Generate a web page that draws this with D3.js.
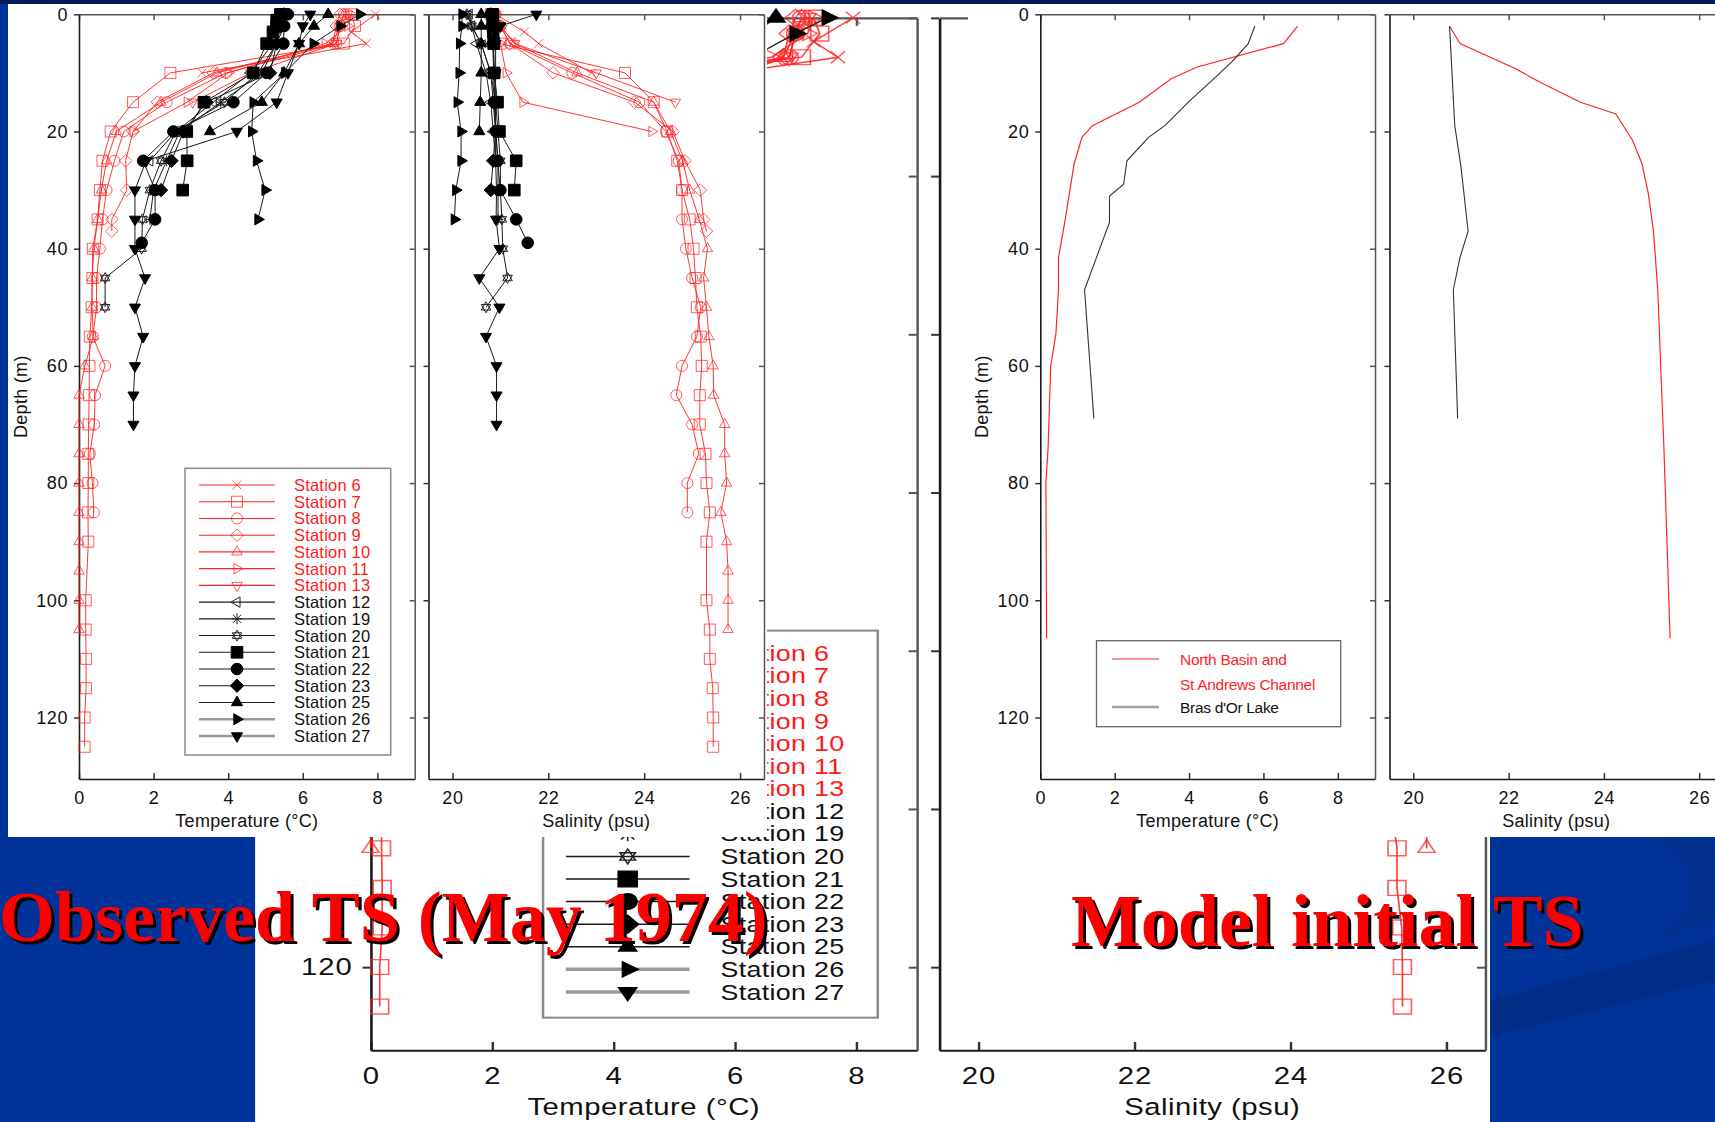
<!DOCTYPE html>
<html>
<head>
<meta charset="utf-8">
<script src="https://cdn.jsdelivr.net/npm/d3@7"></script>
<style>
  html, body { margin: 0; padding: 0; background: #003399; overflow: hidden; }
  svg { display: block; }
  text { font-family: "Liberation Sans", Arial, Helvetica, sans-serif; }
  text.slide-title { font-family: "Liberation Serif", "Times New Roman", serif; font-weight: bold; }
</style>
</head>
<body>
<svg id="slide" width="1715" height="1122"></svg>
<script>
// ---------------- Observed CTD stations, Bras d'Or Lakes, May 1974 ----------------
const stationNames = ["Station 6", "Station 7", "Station 8", "Station 9", "Station 10", "Station 11", "Station 13",
  "Station 12", "Station 19", "Station 20", "Station 21", "Station 22", "Station 23", "Station 25", "Station 26", "Station 27"];

// depth (m), temperature (°C), salinity (psu) per station
const depth6 = [0, 3, 5, 10];
const temp6 = [7.95, 7.3, 7.7, 3.3];
const sal6 = [20.9, 21.5, 21.8, 22.9];

const depth7 = [0, 2, 5, 10, 15, 20, 25, 30, 35, 40, 45, 50, 55, 60, 65, 70, 75, 80, 85, 90, 100, 105, 110, 115, 120, 125];
const temp7 = [7.3, 7.4, 7.1, 2.45, 1.45, 0.85, 0.63, 0.56, 0.5, 0.37, 0.36, 0.34, 0.29, 0.28, 0.27, 0.26, 0.25, 0.25, 0.24, 0.25, 0.18, 0.18, 0.19, 0.19, 0.15, 0.15];
const sal7 = [20.8, 20.9, 21.0, 23.6, 24.2, 24.48, 24.69, 24.79, 24.95, 25.03, 25.07, 25.1, 25.18, 25.2, 25.16, 25.16, 25.28, 25.3, 25.37, 25.3, 25.3, 25.37, 25.37, 25.43, 25.44, 25.44];

const depth8 = [0, 2, 5, 10, 15, 20, 25, 30, 35, 40, 45, 50, 55, 60, 65, 70, 75, 80, 85];
const temp8 = [7.1, 7.0, 6.9, 3.95, 2.35, 1.2, 0.95, 0.74, 0.63, 0.56, 0.47, 0.47, 0.37, 0.7, 0.43, 0.41, 0.29, 0.36, 0.4];
const sal8 = [20.9, 21.0, 21.2, 22.5, 23.9, 24.45, 24.72, 24.79, 24.79, 24.87, 25.0, 25.18, 25.1, 24.79, 24.67, 25.0, 25.14, 24.9, 24.9];

const depth9 = [0, 2, 5, 10, 15, 20, 25, 30, 35, 37];
const temp9 = [7.0, 6.9, 6.8, 3.6, 2.1, 1.45, 1.25, 1.28, 0.88, 0.88];
const sal9 = [20.9, 21.0, 21.2, 22.1, 23.8, 24.6, 24.85, 25.17, 25.24, 25.3];

const depth10 = [0, 2, 5, 10, 15, 20, 25, 30, 35, 40, 45, 50, 55, 60, 65, 70, 75, 80, 85, 90, 95, 100, 105];
const temp10 = [7.1, 7.0, 6.8, 3.7, 2.2, 1.0, 0.74, 0.6, 0.5, 0.4, 0.35, 0.35, 0.38, 0.16, 0.0, 0.0, 0.0, 0.0, 0.0, 0.0, 0.0, 0.0, 0.0];
const sal10 = [20.9, 21.0, 21.3, 22.6, 24.2, 24.55, 24.8, 24.95, 25.15, 25.32, 25.24, 25.3, 25.35, 25.44, 25.45, 25.68, 25.68, 25.72, 25.6, 25.72, 25.75, 25.75, 25.75];

const depth11 = [0, 2, 5, 10, 15, 20];
const temp11 = [7.3, 7.2, 6.6, 4.0, 2.9, 1.45];
const sal11 = [20.8, 20.9, 21.0, 21.12, 21.47, 24.16];

const depth13 = [0, 2, 5, 10, 15];
const temp13 = [7.2, 7.0, 6.9, 4.6, 3.05];
const sal13 = [20.9, 21.0, 21.3, 23.0, 24.65];

const depth12 = [0, 2, 5, 10, 15, 20, 25];
const temp12 = [5.4, 5.3, 5.2, 4.6, 3.6, 2.6, 1.9];
const sal12 = [20.35, 20.4, 20.5, 20.7, 20.8, 20.85, 20.9];

const depth19 = [0, 2, 5, 10, 15, 20, 25, 30, 35];
const temp19 = [5.6, 5.5, 5.3, 4.9, 3.8, 2.7, 2.35, 2.0, 1.9];
const sal19 = [20.3, 20.4, 20.6, 20.8, 20.85, 20.9, 20.95, 20.95, 20.95];

const depth20 = [0, 2, 5, 10, 15, 20, 25, 30, 35, 40, 45, 50];
const temp20 = [5.5, 5.4, 5.3, 4.8, 3.9, 2.6, 2.2, 1.9, 1.7, 1.68, 0.7, 0.7];
const sal20 = [20.3, 20.4, 20.6, 20.8, 20.9, 20.95, 21.0, 21.0, 21.03, 21.05, 21.15, 20.7];

const depth21 = [0, 1, 2, 3, 5, 10, 15, 20, 25, 30];
const temp21 = [5.4, 5.3, 5.3, 5.2, 5.03, 4.67, 3.35, 2.89, 2.9, 2.78];
const sal21 = [20.84, 20.84, 20.85, 20.85, 20.86, 20.87, 20.94, 20.98, 21.33, 21.29];

const depth22 = [0, 2, 5, 10, 15, 20, 25, 30, 35, 39];
const temp22 = [5.6, 5.5, 5.48, 5.03, 4.14, 2.53, 1.72, 2.04, 2.04, 1.68];
const sal22 = [20.8, 20.82, 20.85, 20.87, 20.87, 20.91, 20.94, 21.0, 21.33, 21.57];

const depth23 = [0, 2, 5, 10, 15, 20, 25, 30];
const temp23 = [5.5, 5.4, 5.3, 5.12, 3.42, 2.8, 2.48, 2.2];
const sal23 = [20.8, 20.82, 20.84, 20.86, 20.88, 20.9, 20.85, 20.8];

const depth25 = [0, 2, 5, 10, 15, 20];
const temp25 = [6.68, 6.3, 5.9, 5.5, 4.9, 3.51];
const sal25 = [20.6, 20.6, 20.6, 20.6, 20.58, 20.56];

const depth26 = [0, 2, 5, 10, 15, 20, 25, 30, 35];
const temp26 = [7.53, 7.0, 6.28, 5.52, 4.67, 4.63, 4.76, 4.99, 4.8];
const sal26 = [20.2, 20.2, 20.15, 20.14, 20.1, 20.18, 20.18, 20.07, 20.04];

const depth27 = [0, 2, 5, 10, 15, 20, 25, 30, 35, 40, 45, 50, 55, 60, 65, 70];
const temp27 = [6.2, 6.0, 5.9, 5.6, 5.3, 4.23, 1.8, 1.5, 1.5, 1.5, 1.77, 1.5, 1.72, 1.5, 1.46, 1.46];
const sal27 = [21.75, 21.0, 20.9, 20.9, 20.9, 20.9, 20.9, 20.92, 20.91, 20.98, 20.56, 20.98, 20.7, 20.92, 20.92, 20.92];

// ---------------- Model initial profiles ----------------
const modelNames = ["North Basin and", "St Andrews Channel", "Bras d'Or Lake"];
const northTempDepth = [2, 5, 9, 11, 15, 19, 21, 25.5, 35, 41.5, 47, 54.5, 60, 74, 80, 106.5];
const northTemp = [6.92, 6.54, 4.22, 3.52, 2.66, 1.40, 1.12, 0.91, 0.67, 0.49, 0.49, 0.42, 0.28, 0.21, 0.15, 0.17];
const brasTempDepth = [2, 5, 8, 10.5, 15, 19, 21, 25, 29, 31, 35.5, 47, 69];
const brasTemp = [5.77, 5.59, 5.17, 4.75, 3.98, 3.35, 2.91, 2.33, 2.24, 1.86, 1.86, 1.19, 1.44];
const northSalDepth = [2, 5, 9.3, 11.5, 15, 17, 21.5, 25.5, 30.5, 37, 47, 74, 106.5];
const northSal = [20.76, 20.98, 22.15, 22.64, 23.51, 24.25, 24.6, 24.8, 24.93, 25.04, 25.13, 25.26, 25.39];
const brasSalDepth = [2, 19, 26, 37, 41.5, 47, 69];
const brasSal = [20.76, 20.87, 21.0, 21.15, 20.98, 20.84, 20.93];

// axis ticks
const tempTicks = [0, 2, 4, 6, 8];
const salTicks = [20, 22, 24, 26];
const depthTicks = [0, 20, 40, 60, 80, 100, 120];

// ---------------- build tables ----------------
const depthList = [depth6, depth7, depth8, depth9, depth10, depth11, depth13, depth12, depth19, depth20, depth21, depth22, depth23, depth25, depth26, depth27];
const tempList = [temp6, temp7, temp8, temp9, temp10, temp11, temp13, temp12, temp19, temp20, temp21, temp22, temp23, temp25, temp26, temp27];
const salList = [sal6, sal7, sal8, sal9, sal10, sal11, sal13, sal12, sal19, sal20, sal21, sal22, sal23, sal25, sal26, sal27];
const stations = stationNames.map((name, i) => ({
  name,
  rows: depthList[i].map((d, j) => ({ depth: d, temp: tempList[i][j], sal: salList[i][j] }))
}));

// marker style for each station, in legend order
const markerKinds = ["x", "square", "circle", "diamond", "up", "right", "down",
  "left", "asterisk", "hexagram", "square", "circle", "diamond", "up", "right", "down"];
const RED = "#ff2424";
const isRed = i => i < 7;
const isFilled = i => i >= 10;

function markerPath(kind, r) {
  const s = r * 0.866;
  switch (kind) {
    case "x": { const a = r * 0.8; return `M${-a},${-a}L${a},${a}M${-a},${a}L${a},${-a}`; }
    case "square": return `M${-r},${-r}H${r}V${r}H${-r}Z`;
    case "circle": return d3.symbol(d3.symbolCircle, Math.PI * r * r)();
    case "diamond": { const a = r * 1.15; return `M0,${-a}L${a},0L0,${a}L${-a},0Z`; }
    case "up": return `M0,${-r * 1.1}L${s * 1.1},${r * 0.55}L${-s * 1.1},${r * 0.55}Z`;
    case "down": return `M0,${r * 1.1}L${s * 1.1},${-r * 0.55}L${-s * 1.1},${-r * 0.55}Z`;
    case "right": return `M${r * 1.1},0L${-r * 0.55},${s * 1.1}L${-r * 0.55},${-s * 1.1}Z`;
    case "left": return `M${-r * 1.1},0L${r * 0.55},${s * 1.1}L${r * 0.55},${-s * 1.1}Z`;
    case "asterisk": {
      const a = r * 0.75;
      return `M0,${-r}V${r}M${-r},0H${r}M${-a},${-a}L${a},${a}M${-a},${a}L${a},${-a}`;
    }
    case "hexagram":
      return `M0,${-r}L${s},${r / 2}L${-s},${r / 2}ZM0,${r}L${s},${-r / 2}L${-s},${-r / 2}Z`;
  }
  return "";
}

function styleMarker(sel, i) {
  if (isRed(i)) {
    sel.attr("fill", "none").attr("stroke", RED).attr("stroke-width", 1).attr("stroke-opacity", 0.75);
  } else if (isFilled(i)) {
    sel.attr("fill", "#000").attr("stroke", "#000").attr("stroke-width", 1);
  } else {
    sel.attr("fill", "none").attr("stroke", "#222").attr("stroke-width", 1);
  }
}

const svg = d3.select("#slide");
const AXIS_FONT = 18;
const intFormat = d3.format("d");

// one boxed panel: bottom/top/left/right axes through d3 axes
function panel(g, x, y, ticks, withDepth, label, frame) {
  const [x0, x1] = x.range();
  const [y0, y1] = y.range();
  const fontSet = a => a.attr("font-size", AXIS_FONT).attr("letter-spacing", 0.6);

  const bottom = g.append("g").attr("transform", `translate(0,${y1})`)
    .call(d3.axisBottom(x).tickValues(ticks).tickFormat(intFormat)
      .tickSizeInner(-6).tickSizeOuter(0).tickPadding(12.5));
  fontSet(bottom);
  bottom.select(".domain").attr("stroke", "#1a1a1a").attr("stroke-width", 1.6);
  bottom.selectAll(".tick line").attr("stroke", "#333").attr("stroke-width", 1.5);
  bottom.selectAll(".tick text").attr("fill", "#111");

  const top = g.append("g").attr("transform", `translate(0,${y0})`)
    .call(d3.axisTop(x).tickValues(ticks).tickSizeInner(-6).tickSizeOuter(0).tickFormat(""));
  top.select(".domain").attr("stroke", "#555").attr("stroke-width", 1.5);
  top.selectAll(".tick line").attr("stroke", "#555").attr("stroke-width", 1.5);

  const left = g.append("g").attr("transform", `translate(${x0},0)`)
    .call(d3.axisLeft(y).tickValues(depthTicks).tickSizeInner(5).tickSizeOuter(0).tickPadding(6)
      .tickFormat(withDepth ? intFormat : ""));
  fontSet(left);
  left.select(".domain").attr("stroke", "#1a1a1a").attr("stroke-width", 1.6);
  left.selectAll(".tick line").attr("stroke", "#333").attr("stroke-width", 1.5);
  left.selectAll(".tick text").attr("fill", "#111");

  if (frame !== false) {
    const right = g.append("g").attr("transform", `translate(${x1},0)`)
      .call(d3.axisRight(y).tickValues(depthTicks).tickSizeInner(-5).tickSizeOuter(0).tickFormat(""));
    right.select(".domain").attr("stroke", "#555").attr("stroke-width", 1.5);
    right.selectAll(".tick line").attr("stroke", "#555").attr("stroke-width", 1.5);
  }

  g.append("text").attr("x", (x0 + x1) / 2).attr("y", y1 + 48)
    .attr("text-anchor", "middle").attr("font-size", AXIS_FONT).attr("fill", "#111")
    .attr("letter-spacing", 0.3).text(label);

  if (withDepth) {
    g.append("text").attr("transform", `translate(${x0 - 58},${(y0 + y1) / 2}) rotate(-90)`)
      .attr("text-anchor", "middle").attr("dominant-baseline", "central")
      .attr("font-size", AXIS_FONT).attr("fill", "#111").attr("letter-spacing", 0.3).text("Depth (m)");
  }
}

// ---------------- observed figure ----------------
function drawObserved(g) {
  g.append("rect").attr("x", 8).attr("y", 4).attr("width", 759).attr("height", 833).attr("fill", "#fff");

  const y = d3.scaleLinear().domain([0, 130.5]).range([14.3, 779]);
  const xT = d3.scaleLinear().domain([0, 9]).range([79, 414.7]);
  const xS = d3.scaleLinear().domain([19.5, 26.5]).range([428.5, 764]);

  panel(g, xT, y, tempTicks, true, "Temperature (°C)");
  panel(g, xS, y, salTicks, false, "Salinity (psu)");

  [[xT, "temp"], [xS, "sal"]].forEach(([x, key]) => {
    const line = d3.line().x(r => x(r[key])).y(r => y(r.depth));
    const layer = g.append("g");
    stations.forEach((s, i) => {
      layer.append("path").datum(s.rows).attr("d", line).attr("fill", "none")
        .attr("stroke", isRed(i) ? RED : "#1a1a1a").attr("stroke-width", 1)
        .attr("stroke-opacity", isRed(i) ? 0.9 : 1);
      const m = layer.append("g").selectAll("path").data(s.rows).join("path")
        .attr("d", markerPath(markerKinds[i], isFilled(i) ? 5.8 : 5.5))
        .attr("transform", r => `translate(${x(r[key])},${y(r.depth)})`);
      styleMarker(m, i);
    });
  });

  // legend
  const lg = g.append("g");
  lg.append("rect").attr("x", 185).attr("y", 468.3).attr("width", 205.7).attr("height", 286.7)
    .attr("fill", "#fff").attr("stroke", "#8a8a8a").attr("stroke-width", 1.5);
  stationNames.forEach((name, i) => {
    const cy = 485 + i * 16.73;
    const thick = i >= 14;
    lg.append("line").attr("x1", 199).attr("x2", 275).attr("y1", cy).attr("y2", cy)
      .attr("stroke", isRed(i) ? RED : (thick ? "#9a9a9a" : "#1a1a1a"))
      .attr("stroke-width", thick ? 2.6 : 1.1);
    const m = lg.append("path").attr("d", markerPath(markerKinds[i], isFilled(i) ? 5.8 : 5.5))
      .attr("transform", `translate(237,${cy})`);
    styleMarker(m, i);
    lg.append("text").attr("x", 294).attr("y", cy).attr("dominant-baseline", "central")
      .attr("font-size", 16.5).attr("letter-spacing", 0.2)
      .attr("fill", isRed(i) ? "#ff1a1a" : "#111").text(name);
  });
}

// ---------------- slide background ----------------
svg.append("rect").attr("width", 1715).attr("height", 1122).attr("fill", "#003399");
svg.append("path").attr("d", "M1490,1000 L1715,940 L1715,981 L1490,1037 Z").attr("fill", "#022d86");
svg.append("path").attr("d", "M1660,837 C1700,870 1705,915 1652,939 L1715,921 L1715,837 Z").attr("fill", "#02308e");

// enlarged copy of the observed figure sitting behind the two front figures
drawObserved(svg.append("g").attr("transform", "translate(242.1,-1.6) scale(1.627,1.35)"));
// observed figure
drawObserved(svg.append("g"));

// ---------------- model figure ----------------
const mg = svg.append("g");
mg.append("rect").attr("x", 968).attr("y", 4).attr("width", 747).attr("height", 833).attr("fill", "#fff");
const my = d3.scaleLinear().domain([0, 130.5]).range([14.3, 779]);
const mxT = d3.scaleLinear().domain([0, 9]).range([1040.3, 1375]);
const mxS = d3.scaleLinear().domain([19.5, 26.5]).range([1389.5, 1723]);
panel(mg, mxT, my, tempTicks, true, "Temperature (°C)");
panel(mg, mxS, my, salTicks, false, "Salinity (psu)", false);

const profile = (x, depths, values) => d3.line().x((v, i) => x(values[i])).y((v, i) => my(depths[i]))(depths);
mg.append("path").attr("d", profile(mxT, northTempDepth, northTemp)).attr("fill", "none").attr("stroke", RED).attr("stroke-width", 1.2);
mg.append("path").attr("d", profile(mxT, brasTempDepth, brasTemp)).attr("fill", "none").attr("stroke", "#333").attr("stroke-width", 1.1);
mg.append("path").attr("d", profile(mxS, northSalDepth, northSal)).attr("fill", "none").attr("stroke", RED).attr("stroke-width", 1.2);
mg.append("path").attr("d", profile(mxS, brasSalDepth, brasSal)).attr("fill", "none").attr("stroke", "#333").attr("stroke-width", 1.1);

const ml = mg.append("g");
ml.append("rect").attr("x", 1096.5).attr("y", 640.7).attr("width", 244.2).attr("height", 86)
  .attr("fill", "#fff").attr("stroke", "#666").attr("stroke-width", 1.3);
ml.append("line").attr("x1", 1112).attr("x2", 1159).attr("y1", 659).attr("y2", 659).attr("stroke", RED).attr("stroke-width", 1.2);
ml.append("line").attr("x1", 1112).attr("x2", 1159).attr("y1", 707).attr("y2", 707).attr("stroke", "#a0a0a0").attr("stroke-width", 2.6);
[[659, RED], [684, RED], [707, "#111"]].forEach(([cy, c], i) => {
  ml.append("text").attr("x", 1180).attr("y", cy).attr("dominant-baseline", "central")
    .attr("font-size", 15.5).attr("letter-spacing", -0.3).attr("fill", c).text(modelNames[i]);
});

// top strip
svg.append("rect").attr("width", 1715).attr("height", 4).attr("fill", "#001e5c");

// ---------------- slide titles ----------------
function title(txt, x, y, size) {
  const t = svg.append("g");
  t.append("text").attr("class", "slide-title").style("font-size", size + "px")
    .attr("x", x + 3).attr("y", y + 3).attr("fill", "#000").text(txt);
  t.append("text").attr("class", "slide-title").style("font-size", size + "px")
    .attr("x", x).attr("y", y).attr("fill", "#ff0000").text(txt);
}
title("Observed TS (May 1974)", -1, 941, 72);
title("Model initial TS", 1071, 946, 74);
</script>
</body>
</html>
